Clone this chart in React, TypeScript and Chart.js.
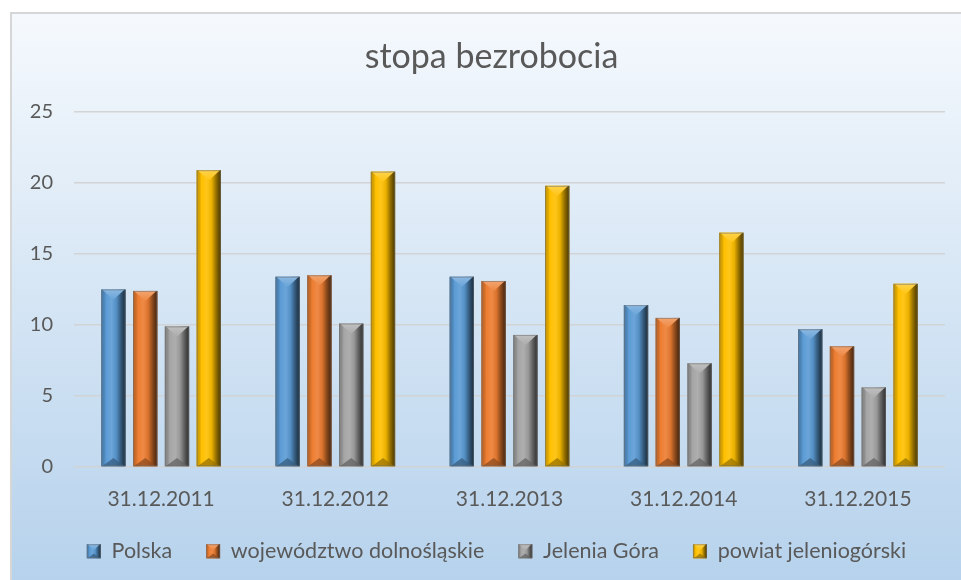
import React, { useEffect, useRef } from "react";
import { Chart, registerables } from "chart.js";

Chart.register(...registerables);

const categories = ["31.12.2011", "31.12.2012", "31.12.2013", "31.12.2014", "31.12.2015"];
const polska = [12.5, 13.4, 13.4, 11.4, 9.7];
const dolnoslaskie = [12.4, 13.5, 13.1, 10.5, 8.5];
const jeleniaGora = [9.9, 10.1, 9.3, 7.3, 5.6];
const powiat = [20.9, 20.8, 19.8, 16.5, 12.9];
const seriesNames = ["Polska", "województwo dolnośląskie", "Jelenia Góra", "powiat jeleniogórski"];
const seriesColors = ["#5b9bd5", "#ed7d31", "#a5a5a5", "#ffc000"];
const yTicks = [0, 5, 10, 15, 20, 25];
const titleText = "stopa bezrobocia";

const FONT = "Lato, 'Open Sans', sans-serif";
const TEXT = "#595959";

function rgb(hex: string) {
  const n = parseInt(hex.slice(1), 16);
  return [(n >> 16) & 255, (n >> 8) & 255, n & 255];
}
function tone(hex: string, f: number, a = 1) {
  const [r, g, b] = rgb(hex);
  const m = (v: number) => (f >= 1 ? Math.round(v + (255 - v) * (f - 1)) : Math.round(v * f));
  return `rgba(${m(r)},${m(g)},${m(b)},${a})`;
}

const bgPlugin = {
  id: "bgPanel",
  afterLayout(chart: any) {
    const tb = chart.titleBlock;
    if (tb) {
      tb.left += 14;
      tb.right += 14;
    }
    const lg = chart.legend;
    if (lg) {
      lg.left += 19;
      lg.right += 19;
    }
  },
  beforeDraw(chart: any) {
    const { ctx, width, height } = chart;
    ctx.save();
    ctx.fillStyle = "#ffffff";
    ctx.fillRect(0, 0, width, height);
    const g = ctx.createLinearGradient(0, 12, 0, height);
    g.addColorStop(0, "#f5f9fd");
    g.addColorStop(1, "#b6d2ec");
    ctx.fillStyle = g;
    ctx.fillRect(10, 12, width - 10, height - 12);
    ctx.fillStyle = "#d6d6d6";
    ctx.fillRect(10, 12, width - 10, 2);
    ctx.fillRect(10, 12, 2, height - 12);
    ctx.restore();
  },
};

function drawBevel(ctx: any, c: string, l: number, t: number, width: number, h: number) {
  const r = l + width;
  const x = l + width / 2;
  const b = t + h;
  const g = ctx.createLinearGradient(l, 0, r, 0);
  g.addColorStop(0, tone(c, 0.78));
  g.addColorStop(0.12, tone(c, 0.86));
  g.addColorStop(0.2, tone(c, 1.0));
  g.addColorStop(0.42, tone(c, 1.1));
  g.addColorStop(0.62, tone(c, 0.92));
  g.addColorStop(0.78, tone(c, 0.62));
  g.addColorStop(0.9, tone(c, 0.42));
  g.addColorStop(1, tone(c, 0.32));
  ctx.fillStyle = g;
  ctx.fillRect(l, t, width, h);
  const bh = Math.min(width * 0.42, h / 2);
  ctx.beginPath();
  ctx.moveTo(l + 1, t);
  ctx.lineTo(r - 1, t);
  ctx.lineTo(x, t + bh);
  ctx.closePath();
  const tg = ctx.createLinearGradient(0, t, 0, t + bh);
  tg.addColorStop(0, tone(c, 1.3));
  tg.addColorStop(1, tone(c, 1.08));
  ctx.fillStyle = tg;
  ctx.fill();
  ctx.beginPath();
  ctx.moveTo(l + 1, b);
  ctx.lineTo(r - 1, b);
  ctx.lineTo(x, b - bh * 0.8);
  ctx.closePath();
  ctx.fillStyle = tone(c, 0.6, 0.75);
  ctx.fill();
  ctx.strokeStyle = "rgba(110,110,110,0.55)";
  ctx.lineWidth = 1;
  ctx.strokeRect(l + 0.5, t + 0.5, width - 1, h - 1);
}

const bevelPlugin = {
  id: "bevel",
  afterDatasetsDraw(chart: any) {
    const ctx = chart.ctx;
    ctx.save();
    chart.data.datasets.forEach((_ds: any, di: number) => {
      const meta = chart.getDatasetMeta(di);
      const c = seriesColors[di];
      meta.data.forEach((bar: any) => {
        const { x, y, base, width } = bar.getProps(["x", "y", "base", "width"], true);
        const t = Math.min(y, base);
        const b = Math.max(y, base);
        drawBevel(ctx, c, x - width / 2, t, width, b - t);
      });
    });
    ctx.restore();
  },
  afterDraw(chart: any) {
    const ctx = chart.ctx;
    const legend = chart.legend;
    if (!legend || !legend.legendHitBoxes) return;
    ctx.save();
    legend.legendHitBoxes.forEach((hb: any, i: number) => {
      const bw = 14;
      const cy = hb.top + hb.height / 2;
      drawBevel(ctx, seriesColors[i], hb.left, cy - bw / 2, bw, bw);
    });
    ctx.restore();
  },
};

export default function App() {
  const ref = useRef<HTMLCanvasElement | null>(null);

  useEffect(() => {
    if (!ref.current) return;
    const series = [polska, dolnoslaskie, jeleniaGora, powiat];
    const chart = new Chart(ref.current, {
      type: "bar",
      data: {
        labels: categories,
        datasets: series.map((d, i) => ({
          label: seriesNames[i],
          data: d,
          backgroundColor: seriesColors[i],
          borderWidth: 0,
          categoryPercentage: 0.73,
          barPercentage: 0.765,
        })),
      },
      options: {
        responsive: false,
        animation: false,
        devicePixelRatio: 1,
        layout: { padding: { left: 10, right: 16, top: 0, bottom: 8 } },
        plugins: {
          title: {
            display: true,
            text: titleText,
            color: TEXT,
            font: { family: FONT, size: 34, weight: "normal", lineHeight: 1.2 },
            padding: { top: 37, bottom: 34.2 },
          },
          legend: {
            position: "bottom",
            labels: {
              color: TEXT,
              font: { family: FONT, size: 21.5 },
              boxWidth: 14,
              boxHeight: 14,
              padding: 34,
            },
          },
          tooltip: { enabled: false },
        },
        scales: {
          x: {
            grid: { display: false },
            border: { display: false },
            ticks: { color: TEXT, font: { family: FONT, size: 21 }, padding: 12 },
            afterFit: (s: any) => {
              s.height = 39.5;
            },
          },
          y: {
            min: 0,
            max: 25,
            afterBuildTicks: (axis: any) => {
              axis.ticks = yTicks.map((v) => ({ value: v }));
            },
            ticks: { color: TEXT, font: { family: FONT, size: 20 }, padding: 21 },
            grid: { color: "rgba(210,210,210,0.95)", lineWidth: 1.5, drawTicks: false },
            border: { display: false },
            afterFit: (s: any) => {
              s.width = 64;
            },
          },
        },
      },
      plugins: [bgPlugin, bevelPlugin],
    } as any);
    return () => chart.destroy();
  }, []);

  return (
    <div style={{ position: "fixed", left: 0, top: 0, width: 961, height: 580, overflow: "hidden" }}>
      <canvas ref={ref} width={961} height={580} style={{ width: 961, height: 580, display: "block" }} />
    </div>
  );
}
